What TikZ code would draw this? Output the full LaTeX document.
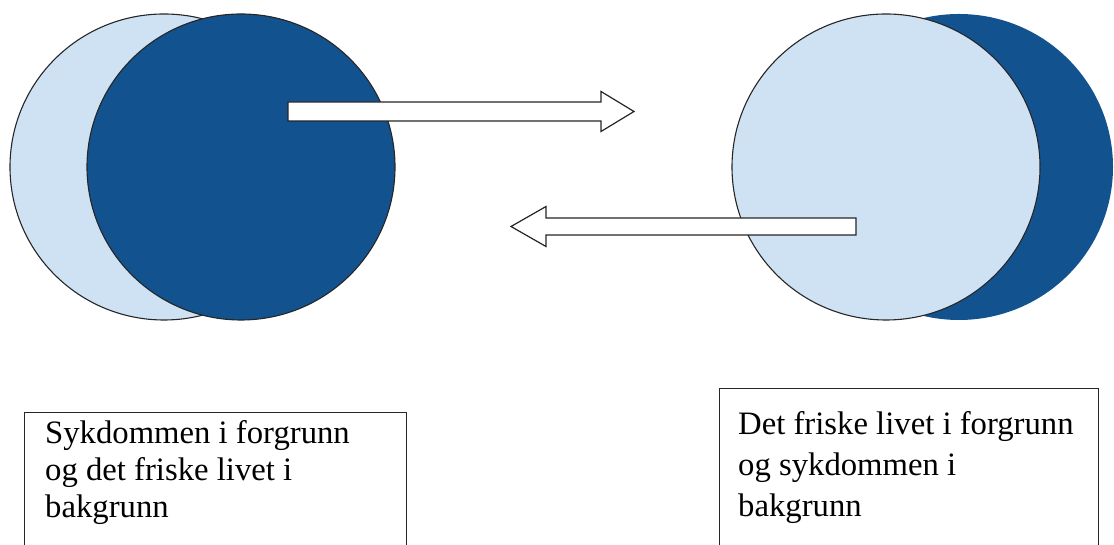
\documentclass[tikz,border=0pt]{standalone}
\usepackage{fontspec}
\setmainfont{Liberation Serif}
\usepackage{xcolor}
\usetikzlibrary{shapes.geometric}

\definecolor{darkblue}{HTML}{12528F}
\definecolor{lightblue}{HTML}{CFE2F3}

\begin{document}
\begin{tikzpicture}[x=1pt, y=1pt]
            \tikzstyle{disc} = [ellipse, minimum width=308, minimum height=306, inner sep=0];
            \tikzstyle{outlined} = [draw=black!85, line width=1.1pt];
            \tikzstyle{blockarrow} = [draw=black!85, line width=1.2pt, fill=white, line join=miter];
            \tikzstyle{textbox} = [draw=black!85, line width=1.2pt, anchor=north west, inner sep=0, minimum height=180];
            \tikzstyle{caption} = [anchor=base west, align=left, inner sep=0];
            \clip (0,0) rectangle (1114,545);

            % venstre: sykdommen i forgrunn
            \node [disc, outlined, fill=lightblue] (healthL) at (164,378) {};
            \node [disc, outlined, fill=darkblue] (sickL) at (241,378) {};

            % hoeyre: det friske livet i forgrunn
            \node [disc, fill=darkblue] (sickR) at (959,378) {};
            \node [disc, outlined, fill=lightblue] (healthR) at (886,378) {};

            \coordinate (A1) at (288,433.5);
            \coordinate (A1tip) at (634,433.5);
            \coordinate (A2) at (856,318.5);
            \coordinate (A2tip) at (511,318.5);

            \draw [blockarrow] (A1) ++(0,9.5) -- ++(313,0) -- ++(0,10.5) -- (A1tip)
                -- ++(-33,-20) -- ++(0,10.5) -- ++(-313,0) -- cycle;
            \draw [blockarrow] (A2) ++(0,8.5) -- ++(-310,0) -- ++(0,11.5) -- (A2tip)
                -- ++(35,-20) -- ++(0,11.5) -- ++(310,0) -- cycle;

            \node [textbox, minimum width=382] (boxL) at (24,133) {};
            \node [textbox, minimum width=379] (boxR) at (719,157) {};

            \node [caption, font=\fontsize{32.7}{37}\selectfont] (txtL) at ([shift={(21,-106)}]boxL.north west)
                {Sykdommen i forgrunn\\og det friske livet i\\bakgrunn};
            \node [caption, font=\fontsize{32.7}{41}\selectfont] (txtR) at ([shift={(19,-129)}]boxR.north west)
                {Det friske livet i forgrunn\\og sykdommen i\\bakgrunn};
        \end{tikzpicture}
\end{document}
